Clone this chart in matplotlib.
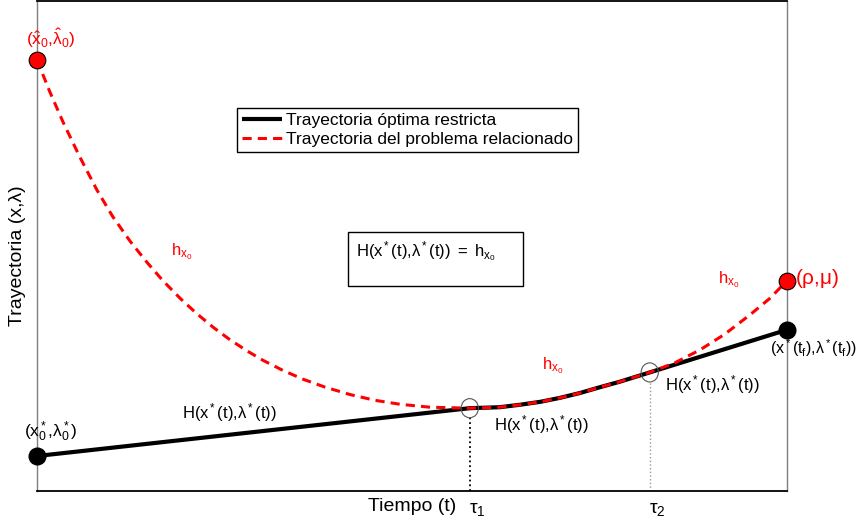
import matplotlib
matplotlib.use("Agg")
import matplotlib.pyplot as plt
from matplotlib.patches import Ellipse, Rectangle
import matplotlib.transforms as mtransforms

plt.rcParams['font.family'] = ['Liberation Sans', 'DejaVu Sans']
plt.rcParams['mathtext.fontset'] = 'custom'
plt.rcParams['mathtext.rm'] = 'Liberation Sans'
plt.rcParams['mathtext.it'] = 'Liberation Sans:italic'
plt.rcParams['mathtext.default'] = 'regular'

# ---- data (axis units 0..10) ----
red_t = [0.0, 0.17, 0.35, 0.57, 0.80, 1.01, 1.24, 1.47, 1.68, 1.91, 2.13,
         2.35, 2.57, 2.80, 3.01, 3.28, 3.55, 3.84, 4.17, 4.51, 4.84, 5.24,
         5.77, 6.17, 6.44, 6.71, 6.97, 7.24, 7.51, 7.77, 8.17, 8.51, 8.84,
         9.17, 9.51, 9.77, 10.0]
red_y = [8.80, 8.15, 7.52, 6.82, 6.14, 5.60, 5.10, 4.66, 4.29, 3.93, 3.62,
         3.34, 3.09, 2.86, 2.67, 2.46, 2.28, 2.12, 1.97, 1.85, 1.77, 1.71,
         1.69, 1.71, 1.76, 1.82, 1.90, 2.00, 2.12, 2.23, 2.42, 2.62, 2.88,
         3.20, 3.60, 3.93, 4.29]

black_t = [0.0, 5.77, 6.17, 6.44, 6.71, 6.97, 7.24, 7.51, 7.77, 8.17, 10.0]
black_y = [0.714, 1.69, 1.71, 1.76, 1.82, 1.90, 2.00, 2.12, 2.23, 2.42, 3.29]

tau_t = [5.77, 8.17]
tau_y = [1.69, 2.42]
tau_labels = [r'$\tau_1$', r'$\tau_2$']

legend_labels = ['Trayectoria óptima restricta', 'Trayectoria del problema relacionado']

H_label = r'$H(x^*(t){,}\lambda^*(t))$'
h_label = r'$h_{x_0}$'

fig = plt.figure(figsize=(8.61, 5.26), dpi=100)
ax = fig.add_axes([37/861, 35/526, 750/861, 490/526])
ax.set_xlim(0, 10)
ax.set_ylim(0, 10)
ax.set_xticks([])
ax.set_yticks([])
for s in ['top', 'bottom']:
    ax.spines[s].set_color('black')
    ax.spines[s].set_linewidth(1.3)
for s in ['left', 'right']:
    ax.spines[s].set_color('#7f7f7f')
    ax.spines[s].set_linewidth(1.0)

lb, = ax.plot(black_t, black_y, color='black', lw=3.0, solid_capstyle='butt',
              solid_joinstyle='round', zorder=3)
lr, = ax.plot(red_t, red_y, color='red', lw=2.2, linestyle=(0, (3, 2)),
              dash_joinstyle='round', zorder=4)

# end markers
ax.plot([red_t[0]], [red_y[0]], 'o', ms=12, mfc='red', mec='black', mew=0.8, zorder=6, clip_on=False)
ax.plot([red_t[-1]], [red_y[-1]], 'o', ms=12, mfc='red', mec='black', mew=0.8, zorder=6, clip_on=False)
ax.plot([black_t[0]], [black_y[0]], 'o', ms=12, mfc='black', mec='black', zorder=6, clip_on=False)
ax.plot([black_t[-1]], [black_y[-1]], 'o', ms=12, mfc='black', mec='black', zorder=6, clip_on=False)

# switching points
tr = mtransforms.blended_transform_factory(ax.transData, ax.transAxes)
for i, (t, y) in enumerate(zip(tau_t, tau_y)):
    ax.add_patch(Ellipse((t, y), 0.23, 0.39, fill=False, edgecolor='#555555', lw=0.8, zorder=7))
    ax.plot([t, t], [0, y - 0.2], linestyle=':', color='black' if i == 0 else '#999999',
            lw=1.3 if i == 0 else 1.0, zorder=2)
    ax.text(t + 0.1, -0.037, tau_labels[i], transform=tr, ha='center', va='center', fontsize=14)

# legend
ax.legend([lb, lr], legend_labels, loc='upper left', bbox_to_anchor=(0.267, 0.782),
          borderaxespad=0, fontsize=12.5, frameon=True, fancybox=False, edgecolor='black',
          framealpha=1, handlelength=2.3, handletextpad=0.2, borderpad=0.3,
          labelspacing=0.2)
ax.get_legend().get_frame().set_linewidth(1.0)

# central box
ax.add_patch(Rectangle((0.415, 0.418), 0.233, 0.110, transform=ax.transAxes,
                       fill=True, facecolor='white', edgecolor='black', lw=1.0, zorder=5))
ax.text(0.425, 0.488, r'$H(x^*(t){,}\lambda^*(t))\ =\ h_{x_0}$', transform=ax.transAxes,
        ha='left', va='center', fontsize=12, zorder=6)

# annotations
ax.text(0.187, 9.24, r'$(\hat{x}_0{,}\hat{\lambda}_0)$', color='red', ha='center', va='center', fontsize=12.5)
ax.text(0.187, 1.2, r'$(x^*_0{,}\lambda^*_0)$', color='black', ha='center', va='center', fontsize=12.5)
ax.text(2.56, 1.61, H_label, ha='center', va='center', fontsize=12)
ax.text(6.73, 1.35, H_label, ha='center', va='center', fontsize=12)
ax.text(9.0, 2.18, H_label, ha='center', va='center', fontsize=12)
ax.text(1.93, 4.88, h_label, color='red', ha='center', va='center', fontsize=12)
ax.text(6.88, 2.55, h_label, color='red', ha='center', va='center', fontsize=12)
ax.text(9.23, 4.31, h_label, color='red', ha='center', va='center', fontsize=12)
ax.text(10.11, 4.33, r'$(\rho{,}\mu)$', color='red', ha='left', va='center', fontsize=15)
ax.text(10.36, 2.92, r'$(x^*(t_f){,}\lambda^*(t_f))$', ha='center', va='center', fontsize=11.5)

ax.set_xlabel('Tiempo (t)', fontsize=14, labelpad=5)
ax.set_ylabel('Trayectoria (x,λ)', fontsize=14)
ax.yaxis.set_label_coords(-0.014, 0.48)

fig.savefig('out.png', dpi=100)
